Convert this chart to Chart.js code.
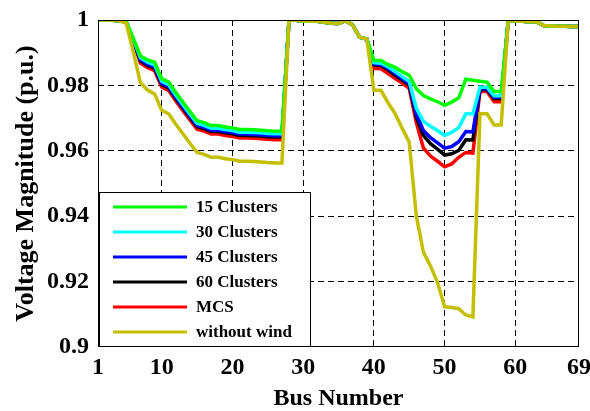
<!DOCTYPE html>
<html>
<head>
<meta charset="utf-8">
<title>Voltage profile</title>
<script src="https://cdn.jsdelivr.net/npm/chart.js@4.4.0/dist/chart.umd.min.js"></script>
<style>
  html, body { margin: 0; padding: 0; background: #fff; }
</style>
</head>
<body>
<canvas id="voltChart" width="590" height="411"></canvas>
<script>
// bus numbers 1..69 on the x axis
const buses = Array.from({ length: 69 }, (_, i) => i + 1);
const xTicks = [1, 10, 20, 30, 40, 50, 60, 69];
const yTicks = [0.9, 0.92, 0.94, 0.96, 0.98, 1];

const seriesNames = ['15 Clusters', '30 Clusters', '45 Clusters', '60 Clusters', 'MCS', 'without wind'];
const seriesColors = ['#00ff00', '#00ffff', '#0000ff', '#000000', '#ff0000', '#c4bf00'];

// voltage magnitude (p.u.) per bus
const clusters15 = [
  1.0000, 1.0000, 0.9999, 0.9998, 0.9994, 0.9944, 0.9890, 0.9878, 0.9871, 0.9821,
  0.9810, 0.9778, 0.9749, 0.9720, 0.9692, 0.9686, 0.9677, 0.9677, 0.9673, 0.9670,
  0.9665, 0.9665, 0.9664, 0.9663, 0.9661, 0.9660, 0.9660,
  0.9999, 0.9999, 0.9997, 0.9997, 0.9996, 0.9993, 0.9990, 0.9989, 0.9998, 0.9985, 0.9947, 0.9942,
  0.9877, 0.9876, 0.9864, 0.9855, 0.9842, 0.9831, 0.9790, 0.9769, 0.9759, 0.9750,
  0.9739, 0.9749, 0.9762, 0.9819, 0.9816, 0.9813, 0.9810, 0.9781, 0.9781,
  0.9999, 0.9997, 0.9996, 0.9995, 0.9995, 0.9983, 0.9982, 0.9981, 0.9981, 0.9980, 0.9980
];
const clusters30 = [
  1.0000, 1.0000, 0.9999, 0.9998, 0.9994, 0.9940, 0.9884, 0.9871, 0.9863, 0.9813,
  0.9802, 0.9770, 0.9741, 0.9712, 0.9684, 0.9678, 0.9669, 0.9669, 0.9665, 0.9662,
  0.9657, 0.9657, 0.9656, 0.9655, 0.9653, 0.9652, 0.9652,
  0.9999, 0.9999, 0.9997, 0.9997, 0.9996, 0.9993, 0.9990, 0.9989, 0.9998, 0.9985, 0.9947, 0.9942,
  0.9870, 0.9868, 0.9857, 0.9842, 0.9827, 0.9812, 0.9730, 0.9690, 0.9675, 0.9662,
  0.9647, 0.9656, 0.9671, 0.9713, 0.9713, 0.9795, 0.9794, 0.9768, 0.9768,
  0.9999, 0.9997, 0.9996, 0.9995, 0.9995, 0.9983, 0.9982, 0.9981, 0.9981, 0.9980, 0.9980
];
const clusters45 = [
  1.0000, 1.0000, 0.9999, 0.9998, 0.9994, 0.9937, 0.9879, 0.9865, 0.9857, 0.9807,
  0.9796, 0.9764, 0.9735, 0.9706, 0.9678, 0.9672, 0.9663, 0.9663, 0.9659, 0.9656,
  0.9651, 0.9651, 0.9650, 0.9649, 0.9647, 0.9646, 0.9646,
  0.9999, 0.9999, 0.9997, 0.9997, 0.9996, 0.9993, 0.9990, 0.9989, 0.9998, 0.9985, 0.9947, 0.9942,
  0.9866, 0.9864, 0.9852, 0.9837, 0.9821, 0.9806, 0.9712, 0.9662, 0.9640, 0.9624,
  0.9608, 0.9613, 0.9628, 0.9659, 0.9658, 0.9791, 0.9790, 0.9764, 0.9764,
  0.9999, 0.9997, 0.9996, 0.9995, 0.9995, 0.9983, 0.9982, 0.9981, 0.9981, 0.9980, 0.9980
];
const clusters60 = [
  1.0000, 1.0000, 0.9999, 0.9998, 0.9993, 0.9936, 0.9875, 0.9861, 0.9853, 0.9803,
  0.9792, 0.9760, 0.9731, 0.9702, 0.9674, 0.9668, 0.9659, 0.9659, 0.9655, 0.9652,
  0.9647, 0.9647, 0.9646, 0.9645, 0.9643, 0.9642, 0.9642,
  0.9999, 0.9999, 0.9997, 0.9997, 0.9996, 0.9993, 0.9990, 0.9989, 0.9998, 0.9985, 0.9947, 0.9942,
  0.9863, 0.9861, 0.9848, 0.9831, 0.9816, 0.9801, 0.9703, 0.9647, 0.9622, 0.9605,
  0.9587, 0.9591, 0.9601, 0.9634, 0.9633, 0.9788, 0.9787, 0.9760, 0.9760,
  0.9999, 0.9997, 0.9996, 0.9995, 0.9995, 0.9983, 0.9982, 0.9981, 0.9981, 0.9980, 0.9980
];
const mcs = [
  1.0000, 1.0000, 0.9999, 0.9998, 0.9993, 0.9932, 0.9868, 0.9854, 0.9845, 0.9795,
  0.9784, 0.9752, 0.9723, 0.9694, 0.9666, 0.9660, 0.9651, 0.9651, 0.9647, 0.9644,
  0.9639, 0.9639, 0.9638, 0.9637, 0.9635, 0.9634, 0.9634,
  0.9999, 0.9999, 0.9997, 0.9997, 0.9996, 0.9993, 0.9990, 0.9989, 0.9998, 0.9985, 0.9947, 0.9942,
  0.9852, 0.9851, 0.9836, 0.9821, 0.9807, 0.9791, 0.9686, 0.9609, 0.9584, 0.9568,
  0.9551, 0.9560, 0.9580, 0.9595, 0.9593, 0.9782, 0.9781, 0.9750, 0.9750,
  0.9999, 0.9997, 0.9996, 0.9995, 0.9995, 0.9983, 0.9982, 0.9981, 0.9981, 0.9980, 0.9980
];
const withoutWind = [
  1.0000, 1.0000, 0.9999, 0.9998, 0.9990, 0.9901, 0.9808, 0.9786, 0.9774, 0.9724,
  0.9713, 0.9681, 0.9652, 0.9623, 0.9595, 0.9589, 0.9580, 0.9580, 0.9576, 0.9573,
  0.9568, 0.9568, 0.9567, 0.9566, 0.9564, 0.9563, 0.9563,
  0.9999, 0.9999, 0.9997, 0.9997, 0.9996, 0.9993, 0.9990, 0.9989, 0.9998, 0.9985, 0.9947, 0.9942,
  0.9785, 0.9785, 0.9747, 0.9714, 0.9669, 0.9626, 0.9401, 0.9290, 0.9248, 0.9197,
  0.9123, 0.9121, 0.9117, 0.9098, 0.9092, 0.9713, 0.9713, 0.9679, 0.9679,
  0.9999, 0.9997, 0.9996, 0.9995, 0.9995, 0.9983, 0.9982, 0.9981, 0.9981, 0.9980, 0.9980
];

const seriesValues = [clusters15, clusters30, clusters45, clusters60, mcs, withoutWind];
// lower order is drawn on top: base case over everything, then 15 clusters ... MCS
const drawOrder = [1, 2, 3, 4, 5, 0];

const serif = "'Liberation Serif', 'Times New Roman', serif";
const labelFont = { family: serif, size: 24, weight: 'bold' };

// box around the axes plus the legend in the lower left corner
const axesBox = {
  id: 'axesBox',
  afterDatasetsDraw(chart) {
    const { ctx, chartArea: a } = chart;
    ctx.save();
    ctx.strokeStyle = '#000';
    ctx.lineWidth = 1;
    ctx.strokeRect(a.left + 0.5, a.top + 0.5, a.right - a.left - 1, a.bottom - a.top - 1);

    const lx = a.left + 1, lw = 212, lh = 155, ly = a.bottom - lh;
    ctx.fillStyle = '#fff';
    ctx.fillRect(lx, ly, lw, lh);
    ctx.strokeRect(lx + 0.5, ly + 0.5, lw - 1, lh - 1);

    ctx.font = 'bold 17px ' + serif;
    ctx.textBaseline = 'middle';
    ctx.textAlign = 'left';
    chart.data.datasets.forEach((ds, i) => {
      const y = ly + 15 + i * 25;
      ctx.strokeStyle = ds.borderColor;
      ctx.lineWidth = 3;
      ctx.beginPath();
      ctx.moveTo(lx + 14, y);
      ctx.lineTo(lx + 88, y);
      ctx.stroke();
      ctx.fillStyle = '#000';
      ctx.fillText(ds.label, lx + 97, y + 1);
    });
    ctx.restore();
  }
};

const ctx = document.getElementById('voltChart').getContext('2d');
new Chart(ctx, {
  type: 'line',
  data: {
    datasets: seriesValues.map((vals, i) => ({
      label: seriesNames[i],
      data: vals.map((v, j) => ({ x: buses[j], y: v })),
      borderColor: seriesColors[i],
      backgroundColor: seriesColors[i],
      borderWidth: 3.5,
      pointRadius: 0,
      tension: 0,
      fill: false,
      order: drawOrder[i]
    }))
  },
  options: {
    responsive: false,
    animation: false,
    events: [],
    layout: { padding: { top: 20, right: 11, left: 0, bottom: 0 } },
    plugins: { legend: { display: false }, tooltip: { enabled: false } },
    scales: {
      x: {
        type: 'linear',
        min: 1,
        max: 69,
        afterBuildTicks: s => { s.ticks = xTicks.map(v => ({ value: v })); },
        afterFit: s => { s.height = 64; s.paddingLeft = 0; s.paddingRight = 0; },
        ticks: { color: '#000', font: labelFont, padding: 6, maxRotation: 0, autoSkip: false },
        grid: {
          color: c => (c.tick && (c.tick.value === 1 || c.tick.value === 69)) ? 'rgba(0,0,0,0)' : '#000',
          lineWidth: 1,
          drawTicks: false
        },
        border: { display: false, dash: [6, 4] },
        title: {
          display: true,
          text: 'Bus Number',
          color: '#000',
          font: { family: serif, size: 24, weight: 'bold', lineHeight: 1 },
          padding: { top: 0, bottom: 0 }
        }
      },
      y: {
        min: 0.9,
        max: 1,
        afterBuildTicks: s => { s.ticks = yTicks.map(v => ({ value: v })); },
        afterFit: s => { s.width = 98; s.paddingTop = 0; s.paddingBottom = 0; },
        ticks: {
          color: '#000',
          font: labelFont,
          padding: 9,
          callback: v => String(Number(v.toFixed(2)))
        },
        grid: {
          color: c => (c.tick && (Math.abs(c.tick.value - 0.9) < 1e-6 || Math.abs(c.tick.value - 1) < 1e-6)) ? 'rgba(0,0,0,0)' : '#000',
          lineWidth: 1,
          drawTicks: false
        },
        border: { display: false, dash: [6, 4] },
        title: {
          display: true,
          text: 'Voltage Magnitude (p.u.)',
          color: '#000',
          font: { family: serif, size: 26, weight: 'bold' },
          padding: { top: 11, bottom: 0 }
        }
      }
    }
  },
  plugins: [axesBox]
});
</script>
</body>
</html>
